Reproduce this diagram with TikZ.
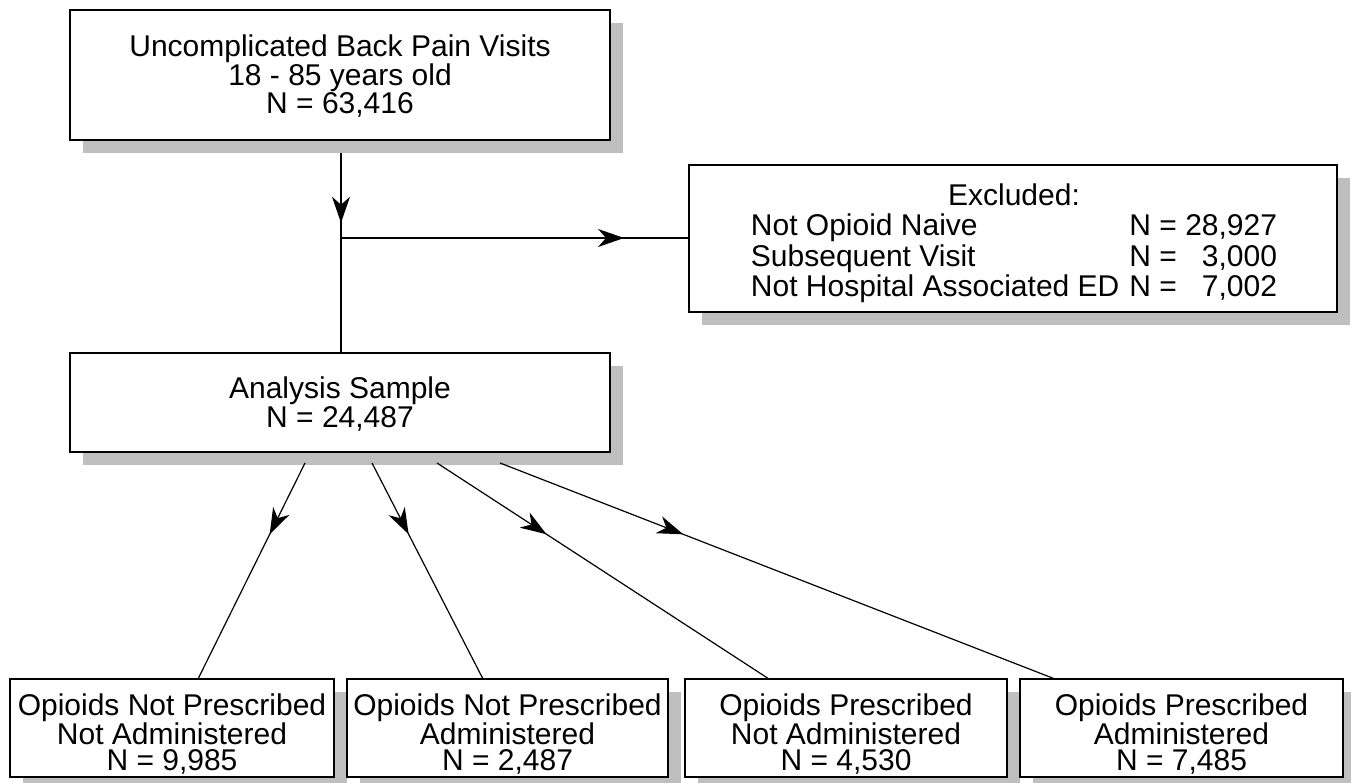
\documentclass[tikz,border=0pt]{standalone}
\usepackage{fontspec}
\setmainfont{Liberation Sans}
\usetikzlibrary{arrows.meta,decorations.markings,shadows}
\begin{document}
\begin{tikzpicture}[x=1pt,y=-1pt,
  box/.style={draw=black, line width=1.4pt, fill=white, rectangle, inner sep=0pt,
    drop shadow={shadow xshift=13pt, shadow yshift=-13pt, fill=black!25, opacity=1, draw=none}},
  txt/.style={align=center, inner sep=0pt, font=\fontsize{30}{28.5}\selectfont},
  lowtxt/.style={txt, font=\fontsize{30}{26}\selectfont},
  flow/.style={line width=1.2pt},
  midarrow/.style={postaction={decorate}, decoration={markings,
    mark=at position #1 with {\arrow{Stealth[length=26pt,width=18pt,inset=8pt]}}}}
]
\useasboundingbox (0,0) rectangle (1351,783);
\clip (0,0) rectangle (1351,783);

% boxes
\node[box, minimum width=540pt, minimum height=130pt] (top) at (340,75) {};
\node[box, minimum width=648pt, minimum height=147pt] (excl) at (1013,238.5) {};
\node[box, minimum width=540pt, minimum height=99pt] (as) at (340,402.5) {};
\node[box, minimum width=324pt, minimum height=98pt] (b1) at (172,728) {};
\node[box, minimum width=321pt, minimum height=98pt] (b2) at (507.5,728) {};
\node[box, minimum width=322pt, minimum height=98pt] (b3) at (846,728) {};
\node[box, minimum width=323pt, minimum height=98pt] (b4) at (1181.5,728) {};

% texts
\node[txt] (topt) at (340,76.5) {Uncomplicated Back Pain Visits\\18 - 85 years old\\N = 63,416};
\node[txt] (exclt) at (1014,244.5)
  {\fontsize{30}{29}\selectfont
   \begin{tabular}{@{}l@{\hspace{10pt}}l@{\ }r@{}}
   \multicolumn{3}{c}{Excluded:}\\
   Not Opioid Naive & N = & 28,927\\
   Subsequent Visit & N = & 3,000\\
   Not Hospital Associated ED & N = & 7,002
   \end{tabular}};
\node[txt] (ast) at (340,404) {Analysis Sample\\N = 24,487};
\node[lowtxt] (b1t) at (172,734) {Opioids Not Prescribed\\Not Administered\\N = 9,985};
\node[lowtxt] (b2t) at (507.5,734) {Opioids Not Prescribed\\Administered\\N = 2,487};
\node[lowtxt] (b3t) at (846,734) {Opioids Prescribed\\Not Administered\\N = 4,530};
\node[lowtxt] (b4t) at (1181.5,734) {Opioids Prescribed\\Administered\\N = 7,485};

% connector points
\coordinate (t0) at (341,153);
\coordinate (j) at (341,238);
\coordinate (s1) at (305,463);
\coordinate (s2) at (372,463);
\coordinate (s3) at (437,463);
\coordinate (s4) at (500,463);
\coordinate (e1) at (198,679);
\coordinate (e2) at (483,679);
\coordinate (e3) at (769,679);
\coordinate (e4) at (1055,679);

\draw[flow, midarrow=0.35] (t0) -- (as.north -| j);
\draw[flow, midarrow=0.815] (j) -- (excl.west |- j);
\draw[flow, midarrow=0.33] (s1) -- (e1);
\draw[flow, midarrow=0.33] (s2) -- (e2);
\draw[flow, midarrow=0.33] (s3) -- (e3);
\draw[flow, midarrow=0.33] (s4) -- (e4);
\end{tikzpicture}
\end{document}
